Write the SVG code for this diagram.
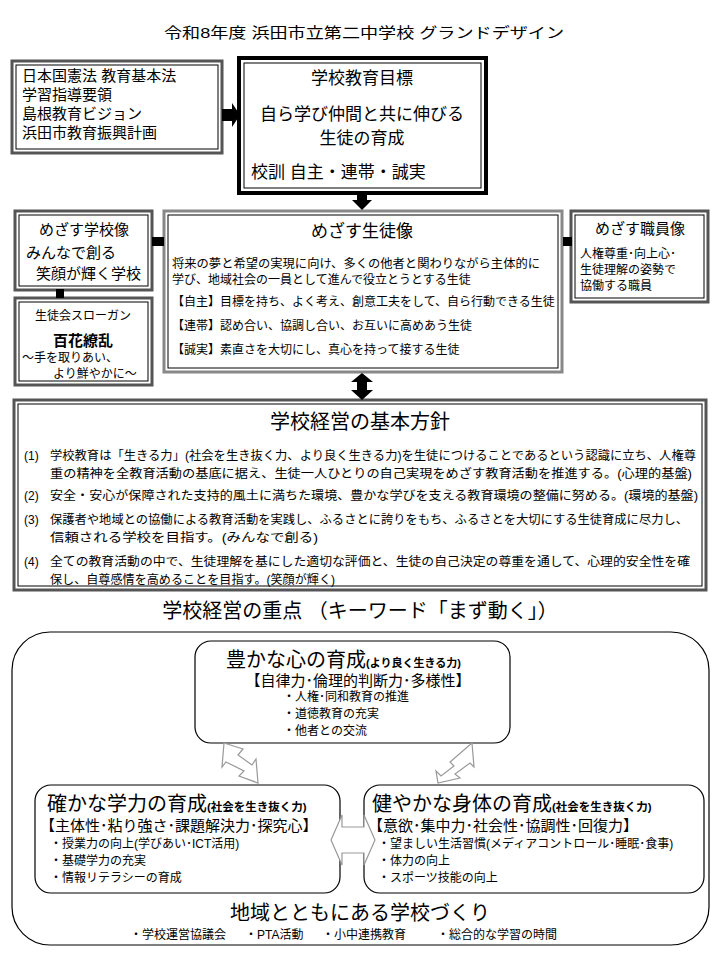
<svg xmlns="http://www.w3.org/2000/svg" width="720" height="960" viewBox="0 0 720 960">
<style>
text{font-family:"Liberation Sans","Noto Sans CJK JP",sans-serif;fill:#000}
.t15{font-size:15px}.t12{font-size:12px}.t11{font-size:12px}.t17{font-size:17px}.t20{font-size:20px}
.dbl{fill:#fff;stroke:#555;stroke-width:3}
.inn{fill:none;stroke:#000;stroke-width:1}
.rr{fill:#fff;stroke:#000;stroke-width:1.2}
.ga{fill:#fff;stroke:#999;stroke-width:1.2}
</style>
<rect width="720" height="960" fill="#fff"/>
<text x="164" y="38" textLength="400" lengthAdjust="spacingAndGlyphs" class="t15">令和8年度 浜田市立第二中学校 グランドデザイン</text>

<g id="laws">
<rect x="12" y="61" width="210" height="92" class="dbl"/>
<rect x="16" y="65" width="202" height="84" class="inn"/>
<text x="22" y="81" class="t15">日本国憲法  教育基本法</text>
<text x="22" y="100" class="t15">学習指導要領</text>
<text x="22" y="119" class="t15">島根教育ビジョン</text>
<text x="22" y="138" class="t15">浜田市教育振興計画</text>
</g>

<g id="goal">
<rect x="239" y="58" width="247" height="135" fill="#fff" stroke="#000" stroke-width="4"/>
<rect x="244" y="63" width="237" height="125" class="inn"/>
<text x="362" y="84" text-anchor="middle" class="t17">学校教育目標</text>
<text x="362" y="120" text-anchor="middle" class="t17">自ら学び仲間と共に伸びる</text>
<text x="362" y="144" text-anchor="middle" class="t17">生徒の育成</text>
<text x="251" y="178" class="t17">校訓  自主・連帯・誠実</text>
</g>

<g id="school">
<rect x="15" y="211" width="137" height="79" class="dbl"/>
<rect x="19" y="215" width="129" height="71" class="inn"/>
<text x="84" y="235" text-anchor="middle" class="t15">めざす学校像</text>
<text x="26" y="258" class="t15">みんなで創る</text>
<text x="36" y="279" class="t15">笑顔が輝く学校</text>
</g>

<g id="slogan">
<rect x="15" y="298" width="137" height="87" class="dbl"/>
<rect x="19" y="302" width="129" height="79" class="inn"/>
<text x="83" y="320" text-anchor="middle" class="t12">生徒会スローガン</text>
<text x="83" y="346" text-anchor="middle" style="font-size:15px;font-weight:bold">百花繚乱</text>
<text x="22" y="362" class="t12">～手を取りあい、</text>
<text x="53" y="378" class="t12">より鮮やかに～</text>
</g>

<g id="student">
<rect x="164" y="211" width="398" height="161" fill="#fff" stroke="#888" stroke-width="3"/>
<rect x="168" y="215" width="390" height="153" class="inn"/>
<text x="362" y="237" text-anchor="middle" class="t17">めざす生徒像</text>
<text x="172" y="268" class="t11" textLength="368" lengthAdjust="spacingAndGlyphs">将来の夢と希望の実現に向け、多くの他者と関わりながら主体的に</text>
<text x="172" y="284" class="t11">学び、地域社会の一員として進んで役立とうとする生徒</text>
<text x="172" y="306" class="t11">【自主】目標を持ち、よく考え、創意工夫をして、自ら行動できる生徒</text>
<text x="172" y="330" class="t11">【連帯】認め合い、協調し合い、お互いに高めあう生徒</text>
<text x="172" y="354" class="t11">【誠実】素直さを大切にし、真心を持って接する生徒</text>
</g>

<g id="staff">
<rect x="571" y="211" width="137" height="91" class="dbl"/>
<rect x="575" y="215" width="129" height="83" class="inn"/>
<text x="640" y="234" text-anchor="middle" class="t15">めざす職員像</text>
<text x="580" y="258" class="t12">人権尊重･向上心･</text>
<text x="580" y="274" class="t12">生徒理解の姿勢で</text>
<text x="580" y="290" class="t12">協働する職員</text>
</g>

<g id="policy">
<rect x="14" y="400" width="692" height="190" fill="#fff" stroke="#555" stroke-width="3"/>
<rect x="18" y="404" width="684" height="182" class="inn"/>
<text x="360" y="429" text-anchor="middle" class="t20">学校経営の基本方針</text>
<text x="24" y="460" class="t11">(1)</text>
<text x="50" y="460" class="t11" textLength="646" lengthAdjust="spacingAndGlyphs">学校教育は「生きる力」(社会を生き抜く力、より良く生きる力)を生徒につけることであるという認識に立ち、人権尊</text>
<text x="50" y="478" class="t11" textLength="642" lengthAdjust="spacingAndGlyphs">重の精神を全教育活動の基底に据え、生徒一人ひとりの自己実現をめざす教育活動を推進する。(心理的基盤)</text>
<text x="24" y="500" class="t11">(2)</text>
<text x="50" y="500" class="t11" textLength="648" lengthAdjust="spacingAndGlyphs">安全・安心が保障された支持的風土に満ちた環境、豊かな学びを支える教育環境の整備に努める。(環境的基盤)</text>
<text x="24" y="524" class="t11">(3)</text>
<text x="50" y="524" class="t11" textLength="638" lengthAdjust="spacingAndGlyphs">保護者や地域との協働による教育活動を実践し、ふるさとに誇りをもち、ふるさとを大切にする生徒育成に尽力し、</text>
<text x="50" y="542" class="t11" textLength="268" lengthAdjust="spacingAndGlyphs">信頼される学校を目指す。(みんなで創る)</text>
<text x="24" y="566" class="t11">(4)</text>
<text x="50" y="566" class="t11" textLength="640" lengthAdjust="spacingAndGlyphs">全ての教育活動の中で、生徒理解を基にした適切な評価と、生徒の自己決定の尊重を通して、心理的安全性を確</text>
<text x="50" y="584" class="t11" textLength="285" lengthAdjust="spacingAndGlyphs">保し、自尊感情を高めることを目指す。(笑顔が輝く)</text>
</g>

<text x="360" y="618" text-anchor="middle" class="t20">学校経営の重点 （キーワード「まず動く」）</text>

<g id="focus">
<rect x="12" y="632" width="697" height="313" rx="38" class="rr"/>
</g>

<g id="heart">
<rect x="195" y="641" width="315" height="102" rx="16" class="rr"/>
<text x="226" y="667" style="font-size:20px">豊かな心の育成<tspan style="font-size:11px;font-weight:bold">(より良く生きる力)</tspan></text>
<text x="358" y="686" text-anchor="middle" class="t15">【自律力･倫理的判断力･多様性】</text>
<text x="283" y="701" class="t11">・人権･同和教育の推進</text>
<text x="283" y="718" class="t11">・道徳教育の充実</text>
<text x="283" y="735" class="t11">・他者との交流</text>
</g>

<g id="academic">
<rect x="35" y="785" width="305" height="108" rx="16" class="rr"/>
<text x="47" y="811" style="font-size:20px">確かな学力の育成<tspan style="font-size:11.5px;font-weight:bold">(社会を生き抜く力)</tspan></text>
<text x="40" y="831" class="t15">【主体性･粘り強さ･課題解決力･探究心】</text>
<text x="50" y="848" class="t12">・授業力の向上(学びあい･ICT活用)</text>
<text x="50" y="865" class="t12">・基礎学力の充実</text>
<text x="50" y="882" class="t12">・情報リテラシーの育成</text>
</g>

<g id="body">
<rect x="364" y="785" width="340" height="108" rx="16" class="rr"/>
<text x="372" y="811" style="font-size:20px">健やかな身体の育成<tspan style="font-size:11.5px;font-weight:bold">(社会を生き抜く力)</tspan></text>
<text x="368" y="831" class="t15">【意欲･集中力･社会性･協調性･回復力】</text>
<text x="378" y="848" class="t12">・望ましい生活習慣(メディアコントロール･睡眠･食事)</text>
<text x="378" y="865" class="t12">・体力の向上</text>
<text x="378" y="882" class="t12">・スポーツ技能の向上</text>
</g>

<g id="community">
<text x="360" y="920" text-anchor="middle" class="t20">地域とともにある学校づくり</text>
<text x="130" y="939" class="t12">・学校運営協議会</text>
<text x="245" y="939" class="t12">・PTA活動</text>
<text x="322" y="939" class="t12">・小中連携教育</text>
<text x="437" y="939" class="t12">・総合的な学習の時間</text>
</g>

<g id="connectors">
<polygon points="222,109 232,109 232,103 240,115 232,127 232,121 222,121" fill="#000"/>
<rect x="357" y="193" width="10" height="7" fill="#000"/>
<polygon points="352,200 372,200 362,210" fill="#000"/>
<rect x="152" y="237" width="12" height="9" fill="#000"/>
<rect x="563" y="237" width="9" height="9" fill="#000"/>
<rect x="56" y="289" width="8" height="9" fill="#000"/>
<polygon points="362,373 373,382 367,382 367,390 373,390 362,400 351,390 357,390 357,382 351,382" fill="#000"/>
<polygon class="ga" points="224,743 243,749 238,755 252,765 256,759 258,783 239,776 244,771 226,762 222,767"/>
<polygon class="ga" points="472,743 450,762 454,766 441,776 436,771 438,783 460,778 455,774 470,763 474,767"/>
<polygon class="ga" points="331,840 342,815 342,827 364,827 364,815 375,840 364,865 364,853 342,853 342,865"/>
</g>
</svg>
